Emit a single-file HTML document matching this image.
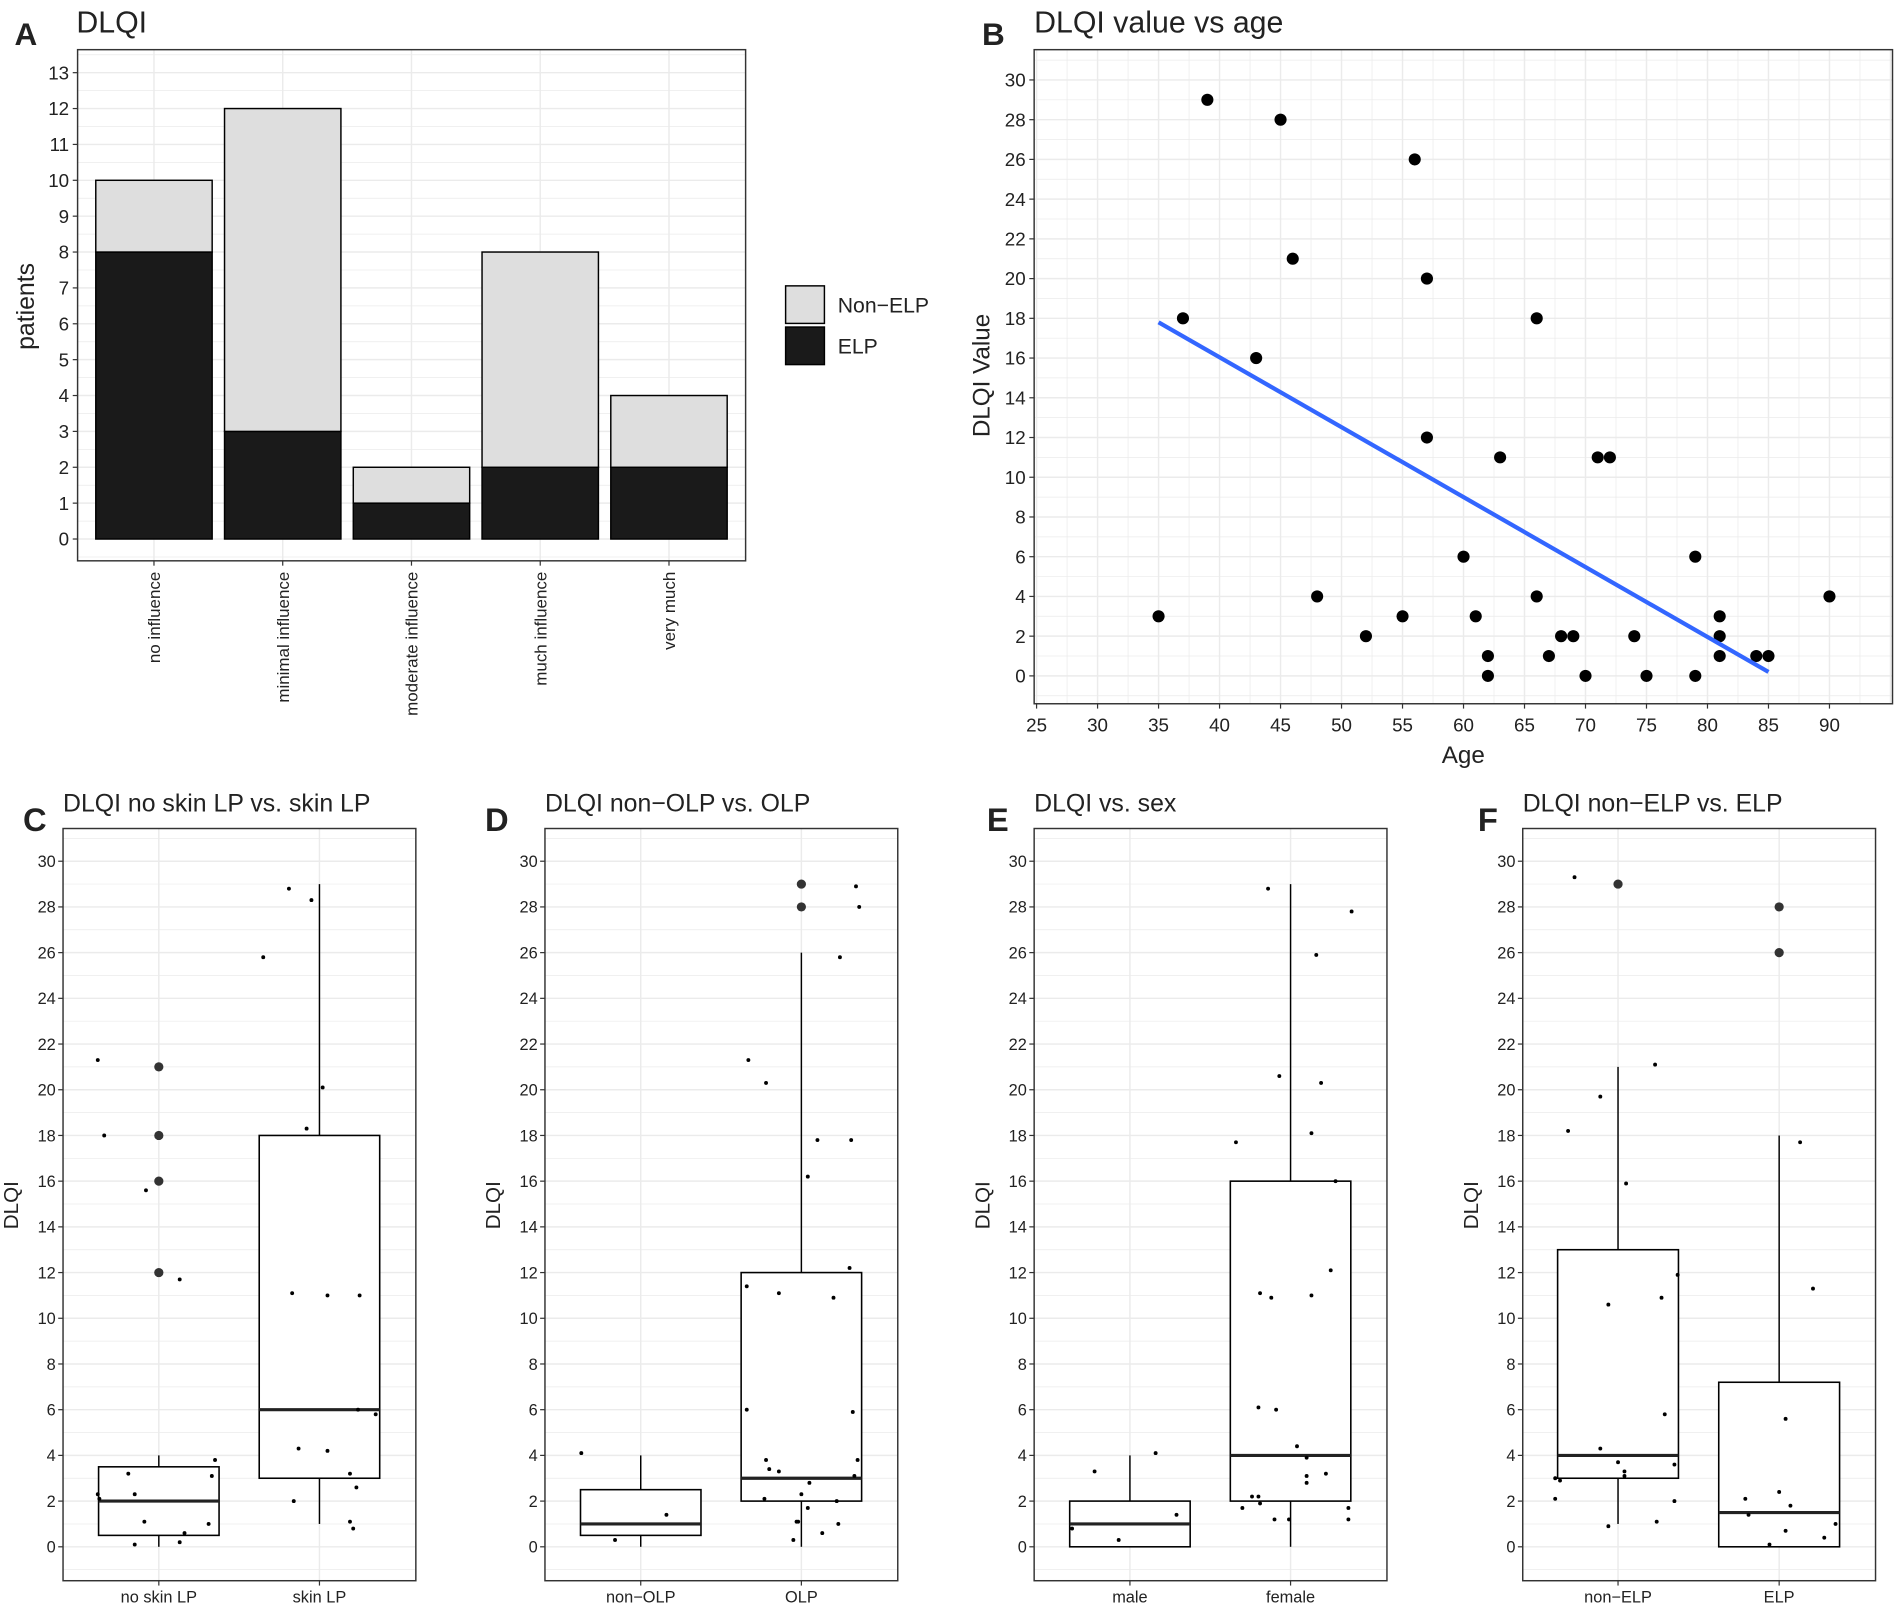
<!DOCTYPE html>
<html><head><meta charset="utf-8"><style>
html,body{margin:0;padding:0;background:#fff}
svg{display:block}
text{font-family:"Liberation Sans",sans-serif;fill:#222}
</style></head><body>
<svg id="fig" width="1901" height="1611" viewBox="0 0 1568 1330" preserveAspectRatio="none" xmlns="http://www.w3.org/2000/svg"></svg>
<script>
// ---------- Panel A data ----------
const aCategories = ["no influence","minimal influence","moderate influence","much influence","very much"];
const aElp = [8,3,1,2,2];
const aNonElp = [2,9,1,6,2];
const aTicks = [0,1,2,3,4,5,6,7,8,9,10,11,12,13];
// ---------- Panel B data ----------
const bAge = [35,37,39,43,45,46,48,52,55,56,57,57,60,61,62,62,63,66,66,67,68,69,70,71,72,74,75,79,79,81,81,81,84,85,90];
const bDlqi = [3,18,29,16,28,21,4,2,3,26,20,12,6,3,1,0,11,18,4,1,2,2,0,11,11,2,0,6,0,3,2,1,1,1,4];
const bFitAge = [35,85];
const bFitVal = [17.8,0.2];
const bXTicks = [25,30,35,40,45,50,55,60,65,70,75,80,85,90];
const bYTicks = [0,2,4,6,8,10,12,14,16,18,20,22,24,26,28,30];
// ---------- Box panels data ----------
const boxYTicks = [0,2,4,6,8,10,12,14,16,18,20,22,24,26,28,30];
const cCategories = ["no skin LP","skin LP"];
const cStats = [[0,0.5,2,3.5,4],[1,3,6,18,29]];
const cOutliers = [[12,16,18,21],[]];
const cJitterVals = [[2.3,2.1,21.3,18,3.2,2.3,15.6,1.1,0.1,0.2,0.6,11.7,1,3.8,3.1],[25.8,28.8,28.3,2,4.3,11.1,20.1,18.3,4.2,11,3.2,2.6,1.1,0.8,11,5.8,6]];
const cJitterOff = [[-0.38,-0.37,-0.38,-0.34,-0.19,-0.15,-0.08,-0.09,-0.15,0.13,0.16,0.13,0.31,0.35,0.33],[-0.35,-0.19,-0.05,-0.16,-0.13,-0.17,0.02,-0.08,0.05,0.05,0.19,0.23,0.19,0.21,0.25,0.35,0.24]];
const dCategories = ["non\u2212OLP","OLP"];
const dStats = [[0,0.5,1,2.5,4],[0,2,3,12,26]];
const dOutliers = [[],[28,29]];
const dJitterVals = [[4.1,0.3,1.4],[21.3,20.3,6,11.4,2.1,3.8,3.4,11.1,3.3,1.1,1.1,0.3,2.3,2.8,16.2,17.8,0.6,10.9,1,1.7,25.8,17.8,12.2,5.9,28.9,3.8,28,2,3.1]];
const dJitterOff = [[-0.37,-0.16,0.16],[-0.33,-0.22,-0.34,-0.34,-0.23,-0.22,-0.2,-0.14,-0.14,-0.03,-0.02,-0.05,0,0.05,0.04,0.1,0.13,0.2,0.23,0.04,0.24,0.31,0.3,0.32,0.34,0.35,0.36,0.22,0.33]];
const eCategories = ["male","female"];
const eStats = [[0,0,1,2,4],[0,2,4,16,29]];
const eOutliers = [[],[]];
const eJitterVals = [[0.8,3.3,0.3,4.1,1.4],[17.7,1.7,2.2,2.2,6.1,11.1,10.9,6,28.8,20.6,1.9,1.2,1.2,4.4,3.9,3.1,2.8,18.1,11,25.9,20.3,3.2,12.1,16,1.7,1.2,27.8]];
const eJitterOff = [[-0.36,-0.22,-0.07,0.16,0.29],[-0.34,-0.3,-0.24,-0.2,-0.2,-0.19,-0.12,-0.09,-0.14,-0.07,-0.19,-0.1,-0.01,0.04,0.1,0.1,0.1,0.13,0.13,0.16,0.19,0.22,0.25,0.28,0.36,0.36,0.38]];
const fCategories = ["non\u2212ELP","ELP"];
const fStats = [[1,3,4,13,21],[0,0,1.5,7.2,18]];
const fOutliers = [[29],[26,28]];
const fJitterVals = [[3,2.9,2.1,18.2,29.3,19.7,10.6,0.9,4.3,3.7,3.3,15.9,3.1,1.1,21.1,10.9,5.8,2,3.6,11.9],[2.1,1.4,0.1,2.4,5.6,0.7,1.8,17.7,11.3,0.4,1]];
const fJitterOff = [[-0.39,-0.36,-0.39,-0.31,-0.27,-0.11,-0.06,-0.06,-0.11,0,0.04,0.05,0.04,0.24,0.23,0.27,0.29,0.35,0.35,0.37],[-0.21,-0.19,-0.06,0,0.04,0.04,0.07,0.13,0.21,0.28,0.35]];

const NS="http://www.w3.org/2000/svg";
const svg=document.getElementById('fig');
function el(tag,attrs,parent,txt){const e=document.createElementNS(NS,tag);for(const k in attrs)e.setAttribute(k,attrs[k]);if(txt!==undefined)e.textContent=txt;(parent||svg).appendChild(e);return e;}
function grp(name){const g=el('g',{});return g;}
function txt(parent,x,y,s,size,anchor,name,extra){const t=el('text',Object.assign({x:x,y:y,'font-size':size,'text-anchor':anchor||'start'},extra||{}),parent,s);return t;}
const GRID='#ebebeb';

// ================= Panel A =================
(function(){
  const g=grp('panel-a');
  const L=64,R=615,T=41,B=463;
  const y=v=>445-v*(445-60)/13;
  const x=i=>127+i*106.2;
  txt(g,12,37,'A',26,'start','panel-a-letter',{'font-weight':'bold'});
  txt(g,63,27,'DLQI',25,'start','panel-a-title');
  for(let v=-0.5;v<=13.5;v+=0.5){const yy=y(v);if(yy<T||yy>B)continue;el('line',{x1:L,x2:R,y1:yy,y2:yy,stroke:GRID,'stroke-width':v%1===0?1.2:0.6},g);}
  aCategories.forEach((c,i)=>{el('line',{x1:x(i),x2:x(i),y1:T,y2:B,stroke:GRID,'stroke-width':1.2},g);});
  aCategories.forEach((c,i)=>{
    const bw=96;
    const r1=el('rect',{x:x(i)-bw/2,y:y(aElp[i]),width:bw,height:y(0)-y(aElp[i]),fill:'#1a1a1a',stroke:'#000','stroke-width':1.2},g);
    
    const tot=aElp[i]+aNonElp[i];
    const r2=el('rect',{x:x(i)-bw/2,y:y(tot),width:bw,height:y(aElp[i])-y(tot),fill:'#dedede',stroke:'#000','stroke-width':1.2},g);
    
    el('line',{x1:x(i),x2:x(i),y1:B,y2:B+4,stroke:'#333'},g);
    txt(g,x(i)+5,B+9,c,14,'end','x-tick-label',{transform:`rotate(-90 ${x(i)+5} ${B+9})`});
  });
  aTicks.forEach(v=>{el('line',{x1:L-4,x2:L,y1:y(v),y2:y(v),stroke:'#333'},g);txt(g,L-7,y(v)+5.5,String(v),15.5,'end','y-tick-label');});
  el('rect',{x:L,y:T,width:R-L,height:B-T,fill:'none',stroke:'#333','stroke-width':1.2},g);
  txt(g,28,253,'patients',20.5,'middle','y-axis-title',{transform:'rotate(-90 28 253)'});
  const lg=grp('legend');g.appendChild(lg);
  el('rect',{x:648,y:236,width:32,height:31,fill:'#dedede',stroke:'#000','stroke-width':1.2},lg);
  el('rect',{x:648,y:270,width:32,height:31,fill:'#1a1a1a',stroke:'#000','stroke-width':1.2},lg);
  txt(lg,691,258,'Non\u2212ELP',17.5,'start','legend-entry-non-elp');
  txt(lg,691,292,'ELP',17.5,'start','legend-entry-elp');
})();

// ================= Panel B =================
(function(){
  const g=grp('panel-b');
  const L=853,R=1561,T=41,B=581;
  const x=a=>855+(a-25)*(1509-855)/65;
  const y=v=>558-v*(558-66)/30;
  txt(g,810,37,'B',26,'start','panel-b-letter',{'font-weight':'bold'});
  txt(g,853,27,'DLQI value vs age',25,'start','panel-b-title');
  for(let v=-1;v<=31.5;v+=1){const yy=y(v);if(yy<T||yy>B)continue;el('line',{x1:L,x2:R,y1:yy,y2:yy,stroke:GRID,'stroke-width':v%2===0?1.2:0.6},g);}
  for(let a=22.5;a<=97.5;a+=2.5){const xx=x(a);if(xx<L||xx>R)continue;el('line',{x1:xx,x2:xx,y1:T,y2:B,stroke:GRID,'stroke-width':a%5===0?1.2:0.6},g);}
  bXTicks.forEach(a=>{el('line',{x1:x(a),x2:x(a),y1:B,y2:B+4,stroke:'#333'},g);txt(g,x(a),B+23,String(a),15.5,'middle','x-tick-label');});
  bYTicks.forEach(v=>{el('line',{x1:L-4,x2:L,y1:y(v),y2:y(v),stroke:'#333'},g);txt(g,L-7,y(v)+5.5,String(v),15.5,'end','y-tick-label');});
  bAge.forEach((a,i)=>{const c=el('circle',{cx:x(a),cy:y(bDlqi[i]),r:5,fill:'#000'},g);});
  const fl=el('line',{x1:x(bFitAge[0]),y1:y(bFitVal[0]),x2:x(bFitAge[1]),y2:y(bFitVal[1]),stroke:'#3366ff','stroke-width':3.5},g);
  
  el('rect',{x:L,y:T,width:R-L,height:B-T,fill:'none',stroke:'#333','stroke-width':1.2},g);
  txt(g,1207,630,'Age',20,'middle','x-axis-title');
  txt(g,816,310,'DLQI Value',20,'middle','y-axis-title',{transform:'rotate(-90 816 310)'});
})();

// ================= Box panels =================
function boxPanel(name,letter,letterX,title,L,R,centers,cats,stats,outs,jv,jo){
  const g=grp(name);
  const T=684,B=1305;
  const y=v=>1277-v*(1277-711)/30;
  const x=i=>centers[i];
  const unit=centers[1]-centers[0];
  txt(g,letterX,686,letter,27,'start',name+'-letter',{'font-weight':'bold'});
  txt(g,L,670,title,20.5,'start',name+'-title');
  for(let v=-1;v<=31.5;v+=1){const yy=y(v);if(yy<T||yy>B)continue;el('line',{x1:L,x2:R,y1:yy,y2:yy,stroke:GRID,'stroke-width':v%2===0?1.2:0.6},g);}
  cats.forEach((c,i)=>{el('line',{x1:x(i),x2:x(i),y1:T,y2:B,stroke:GRID,'stroke-width':1.2},g);el('line',{x1:x(i),x2:x(i),y1:B,y2:B+4,stroke:'#333'},g);txt(g,x(i),B+18,c,13.5,'middle','x-tick-label');});
  boxYTicks.forEach(v=>{el('line',{x1:L-4,x2:L,y1:y(v),y2:y(v),stroke:'#333'},g);txt(g,L-6,y(v)+4.8,String(v),13.5,'end','y-tick-label');});
  cats.forEach((c,i)=>{
    const s=stats[i];const bw=unit*0.75;const cx=x(i);
    const bg=grp('box-'+i);g.appendChild(bg);
    el('line',{x1:cx,x2:cx,y1:y(s[4]),y2:y(s[3]),stroke:'#000','stroke-width':1.2},bg);
    el('line',{x1:cx,x2:cx,y1:y(s[1]),y2:y(s[0]),stroke:'#000','stroke-width':1.2},bg);
    el('rect',{x:cx-bw/2,y:y(s[3]),width:bw,height:y(s[1])-y(s[3]),fill:'#fff',stroke:'#000','stroke-width':1.3},bg);
    el('line',{x1:cx-bw/2,x2:cx+bw/2,y1:y(s[2]),y2:y(s[2]),stroke:'#222','stroke-width':2.6},bg);
    outs[i].forEach(o=>{const c2=el('circle',{cx:cx,cy:y(o),r:3.8,fill:'#333'},bg);});
    jv[i].forEach((v,k)=>{const p=el('circle',{cx:cx+jo[i][k]*unit,cy:y(v),r:1.6,fill:'#000'},bg);});
  });
  el('rect',{x:L,y:T,width:R-L,height:B-T,fill:'none',stroke:'#333','stroke-width':1.2},g);
  const yl=L-37;
  txt(g,yl,995,'DLQI',17,'middle','y-axis-title',{transform:`rotate(-90 ${yl} 995)`});
}
boxPanel('panel-c','C',19,'DLQI no skin LP vs. skin LP',52,343,[131,263.5],cCategories,cStats,cOutliers,cJitterVals,cJitterOff);
boxPanel('panel-d','D',400,'DLQI non\u2212OLP vs. OLP',449.5,740.5,[528.5,661],dCategories,dStats,dOutliers,dJitterVals,dJitterOff);
boxPanel('panel-e','E',814,'DLQI vs. sex',853,1144,[932,1064.5],eCategories,eStats,eOutliers,eJitterVals,eJitterOff);
boxPanel('panel-f','F',1219,'DLQI non\u2212ELP vs. ELP',1256,1547,[1334.6,1467.5],fCategories,fStats,fOutliers,fJitterVals,fJitterOff);
</script>
</body></html>
